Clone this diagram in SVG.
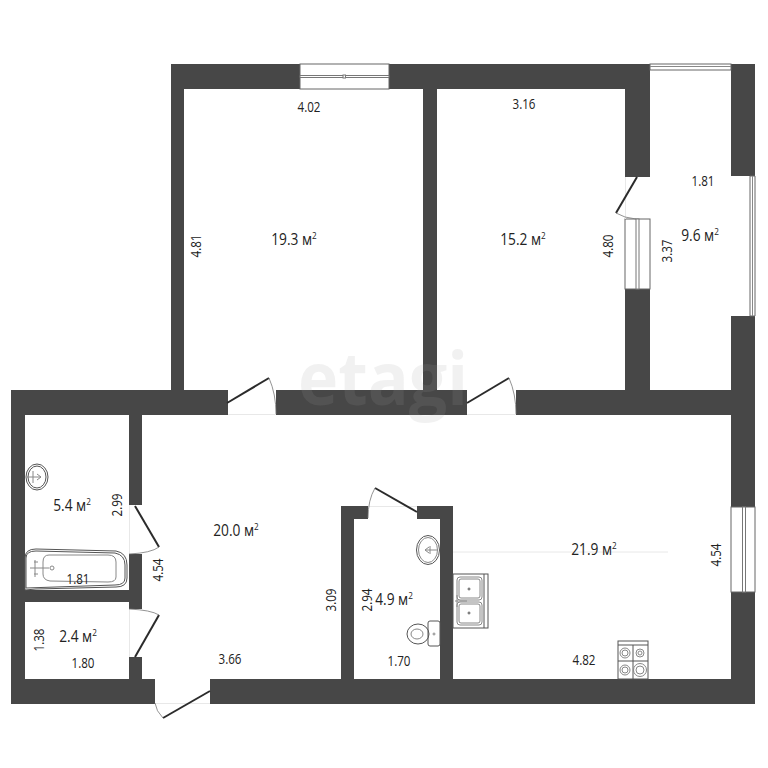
<svg xmlns="http://www.w3.org/2000/svg" width="768" height="768" viewBox="0 0 768 768">
<style>
.w{fill:#474747}
.leaf{fill:none;stroke:#2b2b2b;stroke-width:2}
.arc{fill:none;stroke:#777;stroke-width:.8}
.f{fill:none;stroke:#555;stroke-width:1}
.fl{fill:none;stroke:#888;stroke-width:1}
.win{fill:#fff;stroke:#666;stroke-width:1}
.pane{fill:#fff;stroke:#777;stroke-width:1}
.th{fill:none;stroke:#e8e8e8;stroke-width:1}
text{font-family:"Open Sans","Liberation Sans",sans-serif;font-size:14.500px;fill:#222;text-anchor:middle}
.a{font-size:16px}
.sup{font-size:9.500px}
</style>
<rect width="768" height="768" fill="#fff"/>
<g id="walls">
<path class="w" d="M171 64H300V89H184V390H171Z"/>
<path class="w" d="M389 64H650V177H625V89H437V390H423V89H389Z"/>
<path class="w" d="M731 64H755V176H731Z"/>
<path class="w" d="M625 289H650V390H625Z"/>
<path class="w" d="M731 316H755V507H731Z"/>
<path class="w" d="M11 390H228V415H142V505H129V415H25V590H129V554H142V609H129V602H25V679H129V657H142V679H155V704H11Z"/>
<rect class="w" x="276" y="390" width="191" height="25"/>
<rect class="w" x="516" y="390" width="239" height="25"/>
<path class="w" d="M731 592H755V704H210V679H341V506H368V519H354V679H440V519H417V506H453V679H731Z"/>
</g>
<g id="windows">
<rect class="win" x="300" y="64" width="89" height="25"/>
<path class="pane" d="M300 75.500H389V77.500H300Z"/>
<rect x="343" y="75" width="2.500" height="3" class="pane"/>
<rect class="win" x="650" y="64" width="81" height="6"/>
<path class="fl" d="M650 66.500H731"/>
<rect class="win" x="625" y="219" width="25" height="70"/>
<rect class="pane" x="636" y="219" width="3" height="70"/>
<rect class="win" x="731" y="507" width="24" height="85"/>
<rect class="pane" x="742.500" y="507" width="3" height="85"/>
<path class="win" d="M755 176V316H750V176Z"/>
<path class="fl" d="M752.500 176V316"/>
</g>
<g id="connectors">
<path class="th" d="M228 414.500H276M467 414.500H516M129.500 505V554M129.500 609V657M155 703.500H210M368 506.500H417M625.500 177V219M453 552H668"/>
<path class="leaf" d="M227 403L269 378"/><path class="arc" d="M269 378Q276 394 276 414"/>
<path class="leaf" d="M467 403L509 378"/><path class="arc" d="M509 378Q516 394 516 414"/>
<path class="leaf" d="M135 506L159 547"/><path class="arc" d="M159 547Q151 553 129 554"/>
<path class="leaf" d="M135 657L159 615"/><path class="arc" d="M159 615Q151 610 129 609"/>
<path class="leaf" d="M210 691L163 718"/><path class="arc" d="M163 718Q156 711 155 703"/>
<path class="leaf" d="M417 512L375 488"/><path class="arc" d="M375 488Q368 500 368 518"/>
<path class="leaf" d="M637 177L616 213"/><path class="arc" d="M616 213Q624 218 636 219"/>
</g>
<g id="fixtures">
<g id="basin-bath">
<ellipse class="f" cx="37" cy="477" rx="11" ry="13"/><ellipse class="f" cx="37" cy="477" rx="9" ry="11"/>
<path class="fl" d="M27 477H41M37 474L41 477L37 480M33 471V483"/>
</g>
<g id="bathtub">
<path class="f" d="M25 590V558Q25 549 36 549L116 551Q127 553 127 565V578Q127 587 116 587L36 589Z"/>
<path class="f" d="M26 588V558Q26 551 36 551L115 553Q125 555 125 565V578Q125 585 115 585Z"/>
<path class="fl" d="M49 555H108Q116 555 116 562V577Q116 582 108 582L50 581Q43 580 43 574V562Q43 555 49 555Z"/>
<path class="fl" d="M30 568H49M34 562H38M34 574H38M35 560V577"/><circle class="fl" cx="52" cy="568" r="2"/>
</g>
<g id="basin-wc">
<ellipse class="f" cx="428" cy="550" rx="11.500" ry="14.500"/><ellipse class="fl" cx="428" cy="550" rx="9.500" ry="12.500"/>
<path class="fl" d="M425 550H438M430 546V554M425 550L429 547M425 550L429 553"/>
</g>
<g id="wc">
<rect class="f" x="428" y="621" width="12" height="25" rx="2"/>
<ellipse class="f" cx="418" cy="634" rx="11" ry="10"/><ellipse class="fl" cx="417" cy="634" rx="6" ry="5"/>
<circle class="fl" cx="434" cy="634" r="1"/>
</g>
<g id="kitchen-sink">
<rect class="f" x="453" y="574" width="35" height="54" fill="#fff"/>
<path class="f" d="M484 574V628"/>
<rect class="fl" x="457" y="577" width="25" height="23" rx="3"/><rect class="fl" x="459" y="579" width="21" height="19" rx="2"/>
<rect class="fl" x="457" y="602" width="25" height="23" rx="3"/><rect class="fl" x="459" y="604" width="21" height="19" rx="2"/>
<circle class="f" cx="469" cy="589" r="1"/><circle class="f" cx="469" cy="613" r="1"/>
<path class="fl" d="M455 601H467M457 595V607"/>
</g>
<g id="stove">
<rect class="f" x="618" y="641" width="30" height="38"/>
<path class="f" d="M618 645H648M633 645V679M618 661H648"/>
<circle class="fl" cx="625" cy="653" r="5"/><circle class="fl" cx="625" cy="653" r="3"/>
<circle class="fl" cx="640" cy="653" r="4"/><circle class="fl" cx="640" cy="653" r="2"/>
<circle class="fl" cx="625" cy="670" r="5"/><circle class="fl" cx="625" cy="670" r="3"/>
<circle class="fl" cx="640" cy="670" r="6.500"/><circle class="fl" cx="640" cy="670" r="4"/>
</g>
</g>
<text transform="translate(383 405) scale(.92 1)" style="font-weight:700;font-size:74px;fill:#9a9a9a;fill-opacity:.14">etagi</text>
<g id="labels">
<text transform="translate(309 112) scale(.8 1)">4.02</text>
<text transform="translate(524 109) scale(.8 1)">3.16</text>
<text transform="translate(703 186) scale(.8 1)">1.81</text>
<text class="a" transform="translate(294 245) scale(.86 1)">19.3 м<tspan class="sup" dy="-6">2</tspan></text>
<text class="a" transform="translate(523 245) scale(.86 1)">15.2 м<tspan class="sup" dy="-6">2</tspan></text>
<text class="a" transform="translate(700 241) scale(.86 1)">9.6 м<tspan class="sup" dy="-6">2</tspan></text>
<text class="a" transform="translate(236 536) scale(.86 1)">20.0 м<tspan class="sup" dy="-6">2</tspan></text>
<text class="a" transform="translate(72 511) scale(.86 1)">5.4 м<tspan class="sup" dy="-6">2</tspan></text>
<text class="a" transform="translate(78 642) scale(.86 1)">2.4 м<tspan class="sup" dy="-6">2</tspan></text>
<text class="a" transform="translate(394 605) scale(.86 1)">4.9 м<tspan class="sup" dy="-6">2</tspan></text>
<text class="a" transform="translate(594 555) scale(.86 1)">21.9 м<tspan class="sup" dy="-6">2</tspan></text>
<text transform="translate(78 584) scale(.8 1)">1.81</text>
<text transform="translate(83 668) scale(.8 1)">1.80</text>
<text transform="translate(230 664) scale(.8 1)">3.66</text>
<text transform="translate(399 666) scale(.8 1)">1.70</text>
<text transform="translate(584 665) scale(.8 1)">4.82</text>
<text transform="translate(201 246) rotate(-90) scale(.8 1)">4.81</text>
<text transform="translate(613 246) rotate(-90) scale(.8 1)">4.80</text>
<text transform="translate(672 251) rotate(-90) scale(.8 1)">3.37</text>
<text transform="translate(122 505) rotate(-90) scale(.8 1)">2.99</text>
<text transform="translate(163 570) rotate(-90) scale(.8 1)">4.54</text>
<text transform="translate(44 640) rotate(-90) scale(.8 1)">1.38</text>
<text transform="translate(336 600) rotate(-90) scale(.8 1)">3.09</text>
<text transform="translate(372 600) rotate(-90) scale(.8 1)">2.94</text>
<text transform="translate(721 555) rotate(-90) scale(.8 1)">4.54</text>
</g>
</svg>
